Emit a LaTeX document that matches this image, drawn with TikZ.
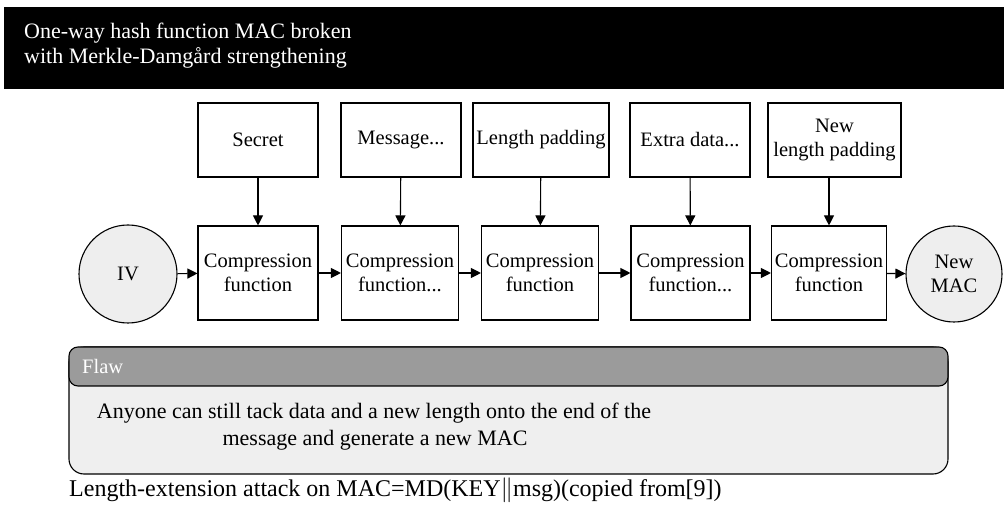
\documentclass[tikz,border=0pt]{standalone}
\usepackage{fontspec}
\setmainfont{Liberation Serif}
\usetikzlibrary{arrows.meta}

\definecolor{circgray}{HTML}{EEEEEE}
\definecolor{flawhead}{HTML}{9B9B9B}
\definecolor{flawbody}{HTML}{EFEFEF}

\tikzset{
    txt/.style={font=\fontsize{20.5}{24}\selectfont, inner sep=0pt, align=center},
    bigtxt/.style={txt, font=\fontsize{22}{26}\selectfont},
    topbox/.style={txt, draw, line width=1.1pt, minimum height=74pt},
    compbox/.style={txt, draw, line width=1.1pt, minimum height=94pt},
    endcirc/.style={txt, draw, circle, fill=circgray, line width=1.1pt},
    arr/.style={line width=1.1pt, -{Triangle[length=10pt, width=10pt]}}
}

\begin{document}
\begin{tikzpicture}[x=1pt, y=-1pt]
    \useasboundingbox (0,0) rectangle (1004,518);

    % banner
    \fill[black] (4,7) rectangle (1004,89);
    \node[bigtxt, white, anchor=base west] (title1) at (24,39) {One-way hash function MAC broken};
    \node[bigtxt, white, anchor=base west] (title2) at (24,64) {with Merkle-Damg\aa rd strengthening};

    % inputs
    \node[topbox, minimum width=120pt] (sec) at (258,140) {Secret};
    \node[topbox, minimum width=120pt] (msg) at (401,140) {Message...};
    \node[topbox, minimum width=136pt] (lp)  at (541,140) {Length padding};
    \node[topbox, minimum width=120pt] (ext) at (690,140) {Extra data...};
    \node[topbox, minimum width=133pt] (nlp) at (834.5,140) {New\\length padding};

    % compression chain
    \node[endcirc, minimum size=98pt] (iv) at (128,274) {IV};
    \node[compbox, minimum width=120pt] (c1) at (258,273) {Compression\\function};
    \node[compbox, minimum width=117pt] (c2) at (400,273) {Compression\\function...};
    \node[compbox, minimum width=117pt] (c3) at (540,273) {Compression\\function};
    \node[compbox, minimum width=119pt] (c4) at (690.5,273) {Compression\\function...};
    \node[compbox, minimum width=115pt] (c5) at (829,273) {Compression\\function};
    \node[endcirc, minimum size=96pt] (mac) at (954,274) {New\\MAC};

    \draw[arr] (sec) -- (c1);
    \draw[arr] (msg) -- (c2);
    \draw[arr] (lp) -- (c3);
    \draw[arr] (ext) -- (c4);
    \draw[arr] (nlp.south -| c5.north) -- (c5);

    \draw[arr] (iv) -- (c1);
    \draw[arr] (c1) -- (c2);
    \draw[arr] (c2) -- (c3);
    \draw[arr] (c3) -- (c4);
    \draw[arr] (c4) -- (c5);
    \draw[arr] (c5) -- (mac);

    % flaw box
    \draw[fill=flawbody, line width=1.1pt, rounded corners=15pt] (69,347) rectangle (948,474);
    \draw[fill=flawhead, line width=1.1pt, rounded corners=9pt] (69,347) rectangle (948,386);
    \node[txt, white, anchor=base west] (flaw) at (82,374) {Flaw};
    \node[txt, font=\fontsize{22}{26}\selectfont, anchor=base] (fl1) at (374,419)
        {Anyone can still tack data and a new length onto the end of the};
    \node[txt, font=\fontsize{22}{26}\selectfont, anchor=base] (fl2) at (375,446)
        {message and generate a new MAC};

    % caption
    \node[txt, font=\fontsize{24}{28}\selectfont, anchor=base west] (cap) at (69,496)
        {Length-extension attack on MAC=MD(KEY$\|$msg)(copied from[9])};
\end{tikzpicture}
\end{document}
